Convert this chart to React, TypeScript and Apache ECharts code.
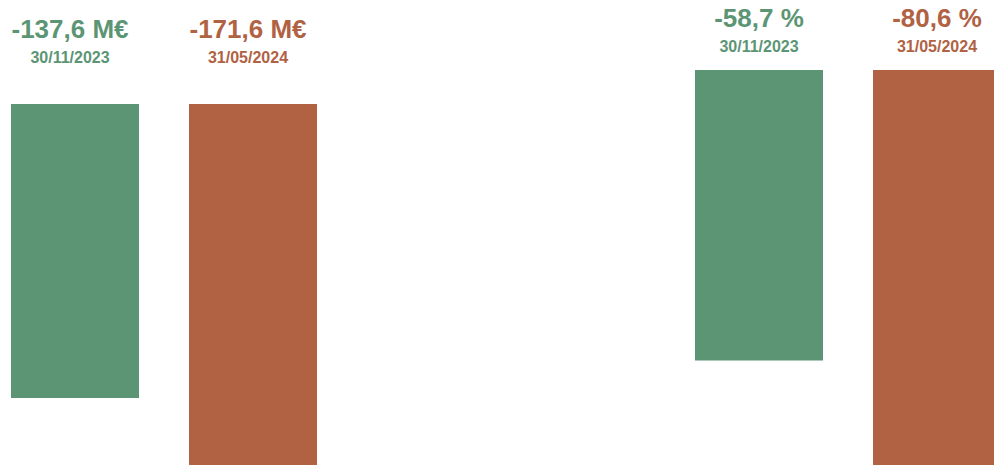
import React, { useEffect, useRef } from "react";
import * as echarts from "echarts";

const dates = ["30/11/2023", "31/05/2024"];
const amountValues = [-137.6, -171.6]; // M€
const ratioValues = [-58.7, -80.6]; // %
const barColors = ["#5C9574", "#B06243"];

const FONT = "'Liberation Sans', Arial, Helvetica, sans-serif";

const fmt = (v: number) => v.toFixed(1).replace(".", ",");

function makeRich() {
  const rich: Record<string, any> = {};
  barColors.forEach((c, i) => {
    rich["v" + i] = { fontSize: 26, fontWeight: "bold", color: c, fontFamily: FONT, lineHeight: 36 };
    rich["d" + i] = { fontSize: 16, fontWeight: "bold", color: c, fontFamily: FONT, lineHeight: 20 };
  });
  return rich;
}

export default function App() {
  const ref = useRef<HTMLDivElement>(null);
  useEffect(() => {
    if (!ref.current) return;
    const chart = echarts.init(ref.current, null, { renderer: "svg" });
    const xAxisBase = {
      type: "category" as const,
      data: dates,
      position: "top" as const,
      axisLine: { show: false },
      axisTick: { show: false },
      splitLine: { show: false },
    };
    chart.setOption({
      animation: false,
      grid: [
        { left: -14, width: 356, top: 104, height: 384.6, outerBoundsMode: "none", containLabel: false },
        { left: 670, width: 356, top: 70, height: 445.5, outerBoundsMode: "none", containLabel: false },
      ],
      xAxis: [
        {
          ...xAxisBase,
          gridIndex: 0,
          axisLabel: {
            margin: 37,
            padding: [0, 10, 0, 0],
            rich: makeRich(),
            formatter: (val: string, i: number) =>
              `{v${i}|${fmt(amountValues[i])} M€}\n{d${i}|${val}}`,
          },
        },
        {
          ...xAxisBase,
          gridIndex: 1,
          axisLabel: {
            margin: 14,
            rich: makeRich(),
            formatter: (val: string, i: number) =>
              `{v${i}|${fmt(ratioValues[i])} %}\n{d${i}|${val}}`,
          },
        },
      ],
      yAxis: [
        { type: "value", gridIndex: 0, min: -180, max: 0, show: false, splitLine: { show: false } },
        { type: "value", gridIndex: 1, min: -90, max: 0, show: false, splitLine: { show: false } },
      ],
      series: [
        {
          type: "bar",
          xAxisIndex: 0,
          yAxisIndex: 0,
          barWidth: 128,
          data: amountValues.map((v, i) => ({ value: v, itemStyle: { color: barColors[i] } })),
        },
        {
          type: "bar",
          xAxisIndex: 1,
          yAxisIndex: 1,
          barWidth: 128,
          data: ratioValues.map((v, i) => ({ value: v, itemStyle: { color: barColors[i] } })),
        },
      ],
    });
    return () => chart.dispose();
  }, []);
  return (
    <div
      ref={ref}
      style={{ position: "fixed", left: 0, top: 0, width: 994, height: 465, background: "#fff" }}
    />
  );
}
